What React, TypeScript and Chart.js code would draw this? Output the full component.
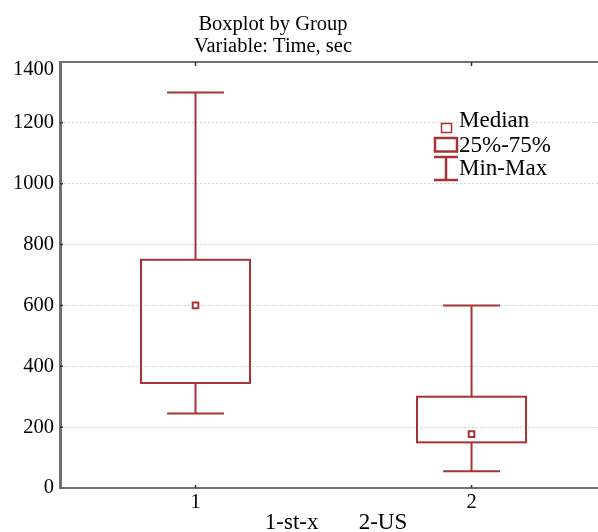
import React, { useEffect, useRef } from 'react';
import { Chart, registerables } from 'chart.js';

Chart.register(...registerables);

// ---- data ----
const groups = [1, 2];
const groupNames = ['1-st-x', '2-US'];
const mins = [245, 55];
const q1s = [345, 150];
const medians = [600, 177];
const q3s = [750, 300];
const maxs = [1300, 600];
const yTicks = [0, 200, 400, 600, 800, 1000, 1200, 1400];
const titleLines = ['Boxplot by Group', 'Variable: Time, sec'];
const legendLabels = ['Median', '25%-75%', 'Min-Max'];

// ---- style ----
const RED = '#a63434';
const FONT = '"Liberation Serif", "Times New Roman", serif';
const BOX_HALF = 0.1975;
const CAP_HALF = 0.103;

const boxPlugin = {
  id: 'boxplotDraw',
  beforeDatasetsDraw(chart: any) {
    const { ctx, chartArea, scales } = chart;
    const x = scales.x;
    const y = scales.y;
    ctx.save();
    // frame
    ctx.strokeStyle = '#707070';
    ctx.lineWidth = 2;
    ctx.beginPath();
    ctx.moveTo(chartArea.left, chartArea.top);
    ctx.lineTo(chartArea.right, chartArea.top);
    ctx.moveTo(chartArea.left, chartArea.bottom);
    ctx.lineTo(chartArea.right, chartArea.bottom);
    ctx.stroke();
    ctx.lineWidth = 3;
    ctx.beginPath();
    ctx.moveTo(chartArea.left + 0.5, chartArea.top - 1);
    ctx.lineTo(chartArea.left + 0.5, chartArea.bottom + 1);
    ctx.stroke();
    // small ticks
    ctx.strokeStyle = '#333';
    ctx.lineWidth = 1.5;
    ctx.beginPath();
    groups.forEach((g) => {
      const px = x.getPixelForValue(g);
      ctx.moveTo(px, chartArea.top);
      ctx.lineTo(px, chartArea.top + 4);
      ctx.moveTo(px, chartArea.bottom);
      ctx.lineTo(px, chartArea.bottom - 3);
    });
    yTicks.slice(1, -1).forEach((v) => {
      const py = y.getPixelForValue(v);
      ctx.moveTo(chartArea.left, py);
      ctx.lineTo(chartArea.left + 3, py);
    });
    ctx.stroke();

    // boxes and whiskers
    ctx.strokeStyle = RED;
    ctx.lineWidth = 2;
    groups.forEach((g, i) => {
      const cx = x.getPixelForValue(g);
      const bl = x.getPixelForValue(g - BOX_HALF);
      const br = x.getPixelForValue(g + BOX_HALF);
      const cl = x.getPixelForValue(g - CAP_HALF);
      const cr = x.getPixelForValue(g + CAP_HALF);
      const yMin = y.getPixelForValue(mins[i]);
      const yQ1 = y.getPixelForValue(q1s[i]);
      const yQ3 = y.getPixelForValue(q3s[i]);
      const yMax = y.getPixelForValue(maxs[i]);
      ctx.beginPath();
      ctx.moveTo(cx, yMax);
      ctx.lineTo(cx, yQ3);
      ctx.moveTo(cx, yQ1);
      ctx.lineTo(cx, yMin);
      ctx.moveTo(cl, yMax);
      ctx.lineTo(cr, yMax);
      ctx.moveTo(cl, yMin);
      ctx.lineTo(cr, yMin);
      ctx.stroke();
      ctx.strokeRect(bl, yQ3, br - bl, yQ1 - yQ3);
    });
    ctx.restore();
  },
  afterDraw(chart: any) {
    const { ctx } = chart;
    ctx.save();
    // title
    ctx.fillStyle = '#000';
    ctx.font = `20.5px ${FONT}`;
    ctx.textAlign = 'center';
    ctx.textBaseline = 'alphabetic';
    ctx.fillText(titleLines[0], 273, 30);
    ctx.fillText(titleLines[1], 273, 52);

    // legend
    ctx.strokeStyle = RED;
    ctx.lineWidth = 1.5;
    ctx.strokeRect(441.5, 123.5, 10, 9);
    ctx.lineWidth = 2.5;
    ctx.strokeRect(435, 138, 22, 13.5);
    ctx.beginPath();
    ctx.moveTo(434, 157);
    ctx.lineTo(458, 157);
    ctx.moveTo(446, 157);
    ctx.lineTo(446, 180);
    ctx.moveTo(434, 180);
    ctx.lineTo(458, 180);
    ctx.stroke();
    ctx.font = `23px ${FONT}`;
    ctx.textAlign = 'left';
    ctx.fillText(legendLabels[0], 459, 127);
    ctx.fillText(legendLabels[1], 459, 152);
    ctx.fillText(legendLabels[2], 459, 175);
    ctx.restore();
  },
};

export default function App() {
  const ref = useRef<HTMLCanvasElement | null>(null);

  useEffect(() => {
    if (!ref.current) return;
    const chart = new Chart(ref.current, {
      type: 'scatter',
      data: {
        datasets: [
          {
            label: 'Median',
            data: groups.map((g, i) => ({ x: g, y: medians[i] })),
            pointStyle: 'rect',
            pointRadius: 4,
            pointHoverRadius: 4,
            borderWidth: 2,
            borderColor: RED,
            backgroundColor: '#fff',
          },
        ],
      },
      options: {
        responsive: false,
        animation: false,
        events: [],
        layout: { padding: { top: 62, left: 0, right: 0, bottom: 0 } },
        plugins: {
          legend: { display: false },
          title: { display: false },
          tooltip: { enabled: false },
        },
        scales: {
          x: {
            type: 'linear',
            min: 0.509,
            max: 2.509,
            afterBuildTicks: (s: any) => {
              s.ticks = groups.map((v) => ({ value: v }));
            },
            afterFit: (s: any) => {
              s.height = 44;
            },
            ticks: {
              padding: 2,
              color: '#000',
              font: { family: FONT, size: 20.5 },
              callback: (v: any) => String(v),
            },
            grid: { display: false, drawTicks: false },
            border: { display: false },
            title: {
              display: true,
              text: groupNames.join('       '),
              color: '#000',
              font: { family: FONT, size: 23, lineHeight: 1 },
              padding: { top: 0, bottom: -2 },
            },
          },
          y: {
            type: 'linear',
            min: 0,
            max: 1400,
            afterBuildTicks: (s: any) => {
              s.ticks = yTicks.map((v) => ({ value: v }));
            },
            afterFit: (s: any) => {
              s.width = 60;
            },
            ticks: {
              padding: 6,
              color: '#000',
              font: (c: any) => ({
                family: FONT,
                size: 20.5,
                lineHeight: c.tick && c.tick.value === 1400 ? '15px' : 1.2,
              }),
              callback: (v: any) => (v === 1400 ? ['', String(v)] : String(v)),
            },
            grid: {
              drawTicks: false,
              lineWidth: 1,
              color: (c: any) =>
                c.tick && (c.tick.value === 0 || c.tick.value === 1400)
                  ? 'rgba(0,0,0,0)'
                  : '#d2d2d2',
            },
            border: { display: false, dash: [2, 2] },
          },
        },
      },
      plugins: [boxPlugin],
    });
    return () => chart.destroy();
  }, []);

  return (
    <div
      style={{
        position: 'absolute',
        left: 0,
        top: 0,
        width: 598,
        height: 532,
        overflow: 'hidden',
        background: '#fff',
      }}
    >
      <canvas ref={ref} width={618} height={532} style={{ display: 'block' }} />
    </div>
  );
}
